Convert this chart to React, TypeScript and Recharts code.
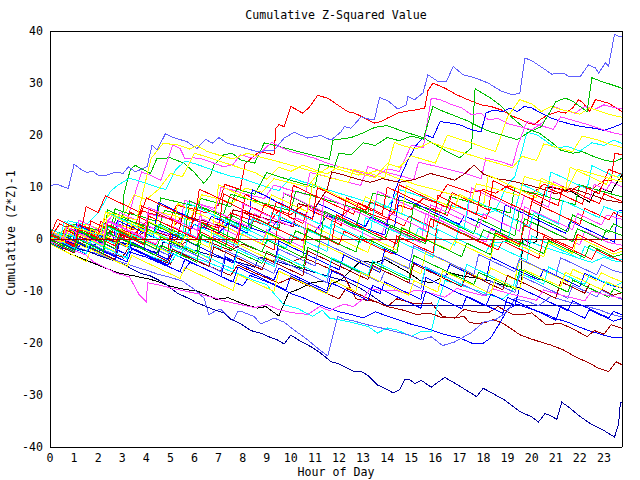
import { Line, LineChart, XAxis, YAxis } from 'recharts'

type P = [number, number]

const HOURS = Array.from({ length: 24 }, (_, i) => i)
const VALUE_TICKS = [-40, -30, -20, -10, 0, 10, 20, 30, 40]

const RED = '#ff0000'
const GREEN = '#00c000'
const BLUE = '#0000ff'
const MAGENTA = '#ff40ff'
const CYAN = '#00ffff'
const DARKRED = '#a00000'
const YELLOW = '#ffff00'
const BLACK = '#000000'
const SLATE = '#6060ff'
const NAVY = '#0000a0'

const FONT = "'DejaVu Sans Mono', monospace"

// [hour, cumulative (z*z)-1]
const slateTop: P[] = [[0,10.2],[0.25,10.6],[0.76,9.7],[1.0,14.4],[1.25,13.5],[1.53,12.8],[1.78,13.0],[2.0,12.3],[2.36,12.3],[2.78,12.9],[3.03,12.6],[3.26,13.9],[3.54,12.9],[4.03,13.9],[4.24,18.1],[4.44,17.1],[4.79,20.2],[5.14,19.5],[5.69,18.7],[6.1,17.4],[6.46,19.2],[6.74,18.4],[7.01,19.5],[7.36,18.4],[7.92,17.7],[8.61,16.8],[9.31,17.1],[9.72,19.4],[10.14,20.5],[10.7,19.4],[11.25,19.9],[11.67,19.0],[12.08,20.6],[12.22,21.6],[12.5,21.3],[12.92,23.5],[13.19,23.1],[13.47,22.9],[13.68,27.2],[14.03,26.6],[14.44,25.0],[14.79,25.8],[14.86,27.4],[15.14,26.8],[15.49,28.1],[15.69,31.6],[16.11,30.3],[16.46,30.3],[16.74,33.2],[17.15,31.6],[17.64,31.0],[18.19,30.0],[18.75,28.4],[19.24,27.7],[19.51,28.1],[19.72,34.8],[20.0,34.3],[20.55,32.6],[20.83,31.7],[21.32,31.9],[21.53,31.3],[22.01,31.2],[22.36,33.5],[22.64,32.9],[22.78,31.9],[23.06,33.9],[23.19,33.2],[23.44,39.4],[23.61,39.0],[23.75,38.9]]
const redPeak: P[] = [[0,0.3],[0.5,-0.4],[0.75,2.5],[1.5,1.5],[2,0.6],[2.25,3.8],[3,2.6],[3.5,1.8],[3.75,5.5],[4.5,4.5],[5,3.8],[5.25,6.5],[6,5.7],[6.5,5.0],[7,6.5],[7.25,10.5],[7.9,9.5],[8.1,14.5],[8.7,16.8],[9.3,16.2],[9.38,21.3],[9.51,22.0],[9.72,21.6],[10.0,25.5],[10.49,24.2],[10.76,25.3],[11.11,27.6],[11.53,27.1],[11.94,25.8],[12.36,24.5],[12.64,24.2],[12.92,23.6],[13.19,22.9],[13.47,22.3],[13.75,22.6],[14.03,23.3],[14.44,24.2],[14.72,24.5],[15.14,24.8],[15.56,25.2],[15.69,28.5],[15.9,30.0],[16.4,29.0],[16.9,27.7],[17.5,26.5],[17.9,25.8],[18.3,25.5],[18.75,24.8],[19.2,23.6],[19.5,23.1],[19.85,22.3],[20.1,22.0],[20.4,23.1],[20.7,23.9],[21.1,24.5],[21.4,24.2],[21.7,25.2],[21.95,26.8],[22.15,26.1],[22.4,24.5],[22.65,26.8],[22.9,26.5],[23.2,26.1],[23.4,25.5],[23.75,24.5]]
const greenA: P[] = [[0,0.5],[0.5,-0.5],[0.75,1.8],[1.5,0.6],[2,-0.3],[2.25,2.5],[3,1.5],[3.06,8.4],[3.33,13.3],[3.54,14.2],[3.75,13.6],[4.17,12.6],[4.44,15.5],[5,15.6],[5.56,14.6],[5.97,12.9],[6.39,10.7],[6.67,12.3],[6.81,14.2],[7.22,16.2],[7.57,16.5],[7.92,15.2],[8.5,14.6],[8.9,18.5],[9.5,17.8],[10,17.2],[10.5,16.6],[11,16.0],[11.6,15.3],[11.75,19.0],[12.5,19.5],[13,20.4],[13.5,21.5],[14,21.8],[14.6,20.8],[15,20.2],[15.5,19.5],[15.9,18.4],[16.5,16.8],[17,15.6],[17.5,17.5],[17.65,28.9],[18.3,27.1],[18.75,25.5],[19.2,23.3],[19.7,21.3],[20.3,20.4],[20.8,18.7],[21.2,17.1],[21.7,16.5],[22.1,16.8],[22.5,16.0],[23,15.2],[23.4,14.8],[23.75,15.5]]
const greenB: P[] = [[0,1],[0.5,0.2],[1,2.8],[1.5,2],[2,1.2],[2.5,0.5],[2.75,4.2],[3.5,3.2],[4,2.5],[4.5,1.8],[4.75,5.5],[5.5,4.6],[6,3.9],[6.25,7.8],[7,6.9],[7.5,6.2],[7.75,9.6],[8.5,8.6],[9,12.8],[9.5,12],[10,11.3],[10.5,10.6],[11,9.9],[11.2,14.4],[11.8,13.8],[12,16.5],[12.5,16.2],[13,18.5],[13.5,18.0],[14,19.5],[14.5,18.9],[15,19.8],[15.5,19.2],[15.9,25.5],[16.3,24.6],[16.8,23.7],[17.3,22.8],[17.8,21.6],[18.3,20.6],[18.9,19.8],[19.4,19.1],[19.9,20.6],[20.4,21.6],[21,26.4],[21.4,27.1],[21.7,26.5],[22,25.5],[22.3,24.5],[22.5,31],[22.9,30.3],[23.3,29.7],[23.75,29]]
const magentaA: P[] = [[0,0.8],[0.5,0],[1,-0.7],[1.25,2.5],[2,1.6],[2.6,4.5],[3.2,3.6],[3.8,12.9],[4.2,12.2],[4.6,11.3],[5.1,18.1],[5.4,17.4],[5.6,15.5],[6,15.6],[6.3,15.4],[6.8,14.6],[7.2,13.9],[7.6,14.3],[7.9,16.2],[8.2,15.8],[8.5,15.5],[9.2,18.6],[9.6,17.6],[10,16.8],[10.5,16.2],[11,15.5],[11.5,14.6],[12,13.9],[12.5,13.3],[13,12.7],[13.5,12],[14,13.5],[14.5,13],[15,18],[15.5,17.6],[15.83,27.1],[16.2,26.8],[16.7,25.8],[17.1,25.2],[17.5,23.9],[17.9,24.2],[18.2,22.9],[18.6,23.2],[19,22.2],[19.5,21.6],[20,21.0],[20.5,22.5],[20.9,25.5],[21.3,24.8],[21.8,24.2],[22.2,25.5],[22.6,24.9],[23,25.8],[23.4,25.3],[23.75,25]]
const yellowA: P[] = [[0,-0.2],[0.5,1.5],[1,0.8],[1.5,2.8],[2,2],[2.5,4.8],[3,4],[3.5,8.5],[4,7.6],[4.5,9.5],[5,12.6],[5.5,12],[6,16.5],[6.5,15.8],[7,15],[7.5,14.3],[8,13.5],[8.5,12.8],[9,11.5],[9.5,13.8],[10,13],[10.5,14.2],[11,13.3],[11.5,12.5],[12,13.9],[12.5,13.2],[13,12.4],[13.5,11.8],[14,14.5],[14.5,13.8],[15,16],[15.5,15.3],[16,14.6],[16.5,20],[17,19.2],[17.5,18.5],[18,17.6],[18.5,16.8],[19,23.5],[19.5,26.8],[20,26],[20.4,24.5],[20.8,25.5],[21.2,24.9],[21.6,24.5],[22,24],[22.4,25.2],[22.8,24.6],[23.2,24],[23.75,23.4]]
const blueA: P[] = [[0,0],[0.5,-0.8],[1,0.8],[1.5,0],[2,-0.8],[2.5,1.5],[3,0.7],[3.5,-0.1],[4,2.5],[4.5,1.7],[5,0.9],[5.5,0.1],[6,2.8],[6.5,2],[7,1.2],[7.5,3.5],[8,2.7],[8.5,1.9],[9,1.1],[9.5,3.8],[10,3],[10.5,2.2],[11,1.4],[11.5,4.5],[12,3.7],[12.5,2.9],[13,2.1],[13.5,1.4],[13.9,0.8],[14.1,5],[14.3,9],[14.6,12.5],[14.9,15.5],[15.2,18],[15.6,20],[15.9,19.5],[16.2,22.6],[16.6,22.3],[17,22],[17.5,21],[17.9,20.6],[18.1,24.2],[18.4,24.8],[18.8,24.5],[19.1,25.2],[19.4,24.5],[19.7,25.5],[20,25.2],[20.4,24.2],[20.8,23.3],[21.2,22.6],[21.7,22],[22.1,21.6],[22.6,21.3],[23,20.9],[23.4,21.5],[23.75,22.2]]
const cyanA: P[] = [[0,1.5],[0.5,0.7],[0.75,3.5],[1.5,2.7],[2,5],[2.5,9.1],[2.8,10.3],[3.3,11.7],[3.8,11],[4.3,10.2],[4.8,9.5],[5.2,13.2],[5.6,15],[6,14.5],[6.5,13.7],[7,12.8],[7.5,12.1],[8,11.6],[8.5,10.8],[9,10],[9.5,9.3],[10,11.8],[10.5,11],[11,10.3],[11.5,9.5],[12,8.8],[12.5,8.1],[13,7.4],[13.5,6.7],[14,6],[14.5,9.5],[15,8.8],[15.5,8],[16,7.3],[16.5,6.6],[17,6],[17.5,5.3],[18,4.6],[18.5,5.5],[19,10.5],[19.3,12],[19.6,17],[19.8,20.5],[20.2,20.1],[20.6,18.8],[21,17.5],[21.5,17.8],[22,16.9],[22.5,18.5],[23,18],[23.4,19],[23.75,18.4]]
const redB: P[] = [[0,0.3],[0.5,-0.5],[1,1.8],[1.5,1],[2,0.2],[2.5,2.5],[3,1.7],[3.5,0.9],[4,3.3],[4.5,2.5],[5,1.7],[5.5,4.5],[6,3.7],[6.5,2.9],[7,2.1],[7.5,5],[8,4.2],[8.5,3.4],[9,2.6],[9.5,5.5],[10,4.7],[10.5,6.5],[11,5.7],[11.5,4.9],[12,4.1],[12.5,6],[13,5.3],[13.5,4.5],[14,3.7],[14.5,6.5],[15,5.7],[15.5,7.8],[16,7],[16.5,10.5],[17,9.7],[17.5,8.9],[18,9.5],[18.5,8.8],[19,10.2],[19.5,9.5],[20,8.7],[20.5,10.5],[21,9.8],[21.5,9],[22,10.3],[22.5,9.6],[23,11.2],[23.3,11.3],[23.45,16.5],[23.75,16.2]]
const blackA: P[] = [[0,-0.6],[0.7,-2.6],[1.4,-3.9],[2.1,-5.2],[2.8,-6.5],[3.5,-7.1],[4.2,-7.8],[4.6,-8.4],[5,-9.1],[5.6,-9.7],[6.1,-10],[6.5,-10.7],[6.9,-11.6],[7.4,-11.3],[7.92,-12.3],[8.6,-13.3],[8.96,-13],[9.5,-14.8],[9.9,-10.4],[10.35,-9.6],[10.8,-8.5],[11.3,-8.1],[11.7,-8.6],[12.1,-7.8],[12.5,-6],[12.9,-4.2],[13.5,-4.6],[13.9,-3.9],[14.4,-5.2],[14.9,-6.5],[15.4,-8.1],[15.83,-8.4],[16.2,-7.6],[16.6,-6.5],[17.2,-7.2],[17.7,-7.5],[18.2,-8],[18.6,-8.6],[19.0,-9.1],[19.55,-9.4],[19.62,0],[19.9,-0.8],[20.2,-0.5],[20.3,4.5],[20.6,10],[21.1,9.7],[21.7,9],[22.0,8.1],[22.4,7.1],[22.6,9],[22.9,9.7],[23.3,9],[23.5,10.6],[23.75,12.3]]
const navyLow: P[] = [[0,0.3],[0.42,-0.4],[0.83,-1.2],[1.25,-2.0],[1.67,-2.5],[2.08,-3.3],[2.5,-3.9],[3.06,-4.9],[3.47,-5.9],[3.75,-6.6],[4.17,-7.1],[4.72,-8.4],[5.28,-10.4],[5.56,-11.0],[5.83,-11.6],[6.11,-12.3],[6.39,-12.8],[6.81,-13.6],[7.01,-13.9],[7.22,-14.2],[7.5,-15.4],[7.92,-16.3],[8.33,-17.6],[8.75,-18.1],[9.03,-18.7],[9.44,-19.4],[9.72,-20.2],[10.0,-18.5],[10.42,-19.7],[10.83,-20.7],[11.25,-22.0],[11.67,-23.6],[11.94,-23.9],[12.36,-24.9],[12.64,-25.5],[12.92,-25.5],[13.19,-26.2],[13.61,-28.1],[14.03,-29.0],[14.24,-29.6],[14.51,-29.0],[14.72,-27.1],[14.93,-27.0],[15.14,-27.8],[15.42,-27.2],[15.83,-28.5],[16.39,-26.6],[16.94,-28.1],[17.71,-30.3],[17.99,-28.7],[18.26,-29.4],[18.89,-31.0],[19.51,-33.2],[20.0,-34.2],[20.28,-35.2],[20.55,-33.6],[20.76,-33.9],[21.04,-34.7],[21.25,-31.4],[21.53,-32.3],[21.94,-33.9],[22.43,-35.5],[22.99,-36.8],[23.44,-38.1],[23.61,-35.5],[23.68,-31.6],[23.75,-31.3]]
const navyFlat: P[] = [[0,0.6],[0.6,-0.3],[1.2,-1.1],[1.8,-1.9],[2.0,0.5],[2.7,-0.3],[3.3,-1.1],[3.9,-1.9],[4.5,-2.7],[4.7,-0.6],[5.4,-1.4],[6,-2.2],[6.6,-3],[7.2,-3.8],[7.9,-4.6],[8.5,-5.4],[8.7,-3.5],[9.4,-4.3],[10,-5.1],[10.6,-5.9],[11.2,-6.7],[11.8,-7.5],[12.4,-8.3],[12.9,-9.5],[13.4,-11],[13.96,-12.8],[23.75,-12.8]]
const slateLow: P[] = [[0,0.2],[0.5,-0.6],[1,-1.4],[1.5,-2.2],[2,-2.9],[2.5,-3.8],[3,-4.5],[3.5,-5.3],[4,-6],[4.5,-6.8],[5,-7.4],[5.5,-8.1],[6,-9.7],[6.4,-11.4],[6.6,-14.6],[6.9,-13.7],[7.1,-13.6],[7.4,-14.9],[7.6,-15.7],[7.8,-14.0],[7.92,-13.9],[8.47,-14.9],[8.75,-16.3],[9.03,-15.8],[9.31,-15.2],[9.72,-16],[10.14,-17.5],[10.7,-19.4],[11.11,-21],[11.53,-22.5],[11.94,-14.9],[12.22,-15.4],[12.64,-15.8],[13.19,-16.5],[13.75,-17.1],[14.31,-17.8],[14.86,-18.4],[15.42,-19.4],[15.83,-18.8],[16.3,-20.5],[16.8,-19.8],[17.5,-18],[18,-16],[18.5,-15.5],[19,-14],[19.3,-11.5],[19.8,-12],[20.3,-12.8],[20.8,-11],[21.3,-11.8],[21.8,-12.4],[22.3,-13],[22.8,-13.6],[23.3,-14.5],[23.75,-15]]
const darkredLow: P[] = [[0,0],[1,-1.5],[1.5,-0.5],[2,-1.8],[3,-3.5],[3.3,-1.5],[4,-3],[5,-4.8],[5.3,-2.5],[6,-4],[7,-6],[7.5,-7],[7.8,-5],[8.5,-6.5],[9.5,-8.5],[10,-7.5],[11,-9.5],[12,-11.5],[12.3,-9.5],[13,-11],[14,-13],[14.4,-11.5],[15.2,-12.5],[15.83,-12.3],[16.3,-14.9],[16.7,-15.2],[17.2,-14.9],[17.4,-16],[17.7,-16.3],[18.1,-16],[18.4,-15.5],[18.8,-16.2],[19.1,-17.1],[19.5,-18.4],[19.9,-19.1],[20.3,-19.7],[20.8,-20.4],[21.3,-21.3],[21.8,-22.6],[22.4,-23.9],[22.8,-24.9],[23.2,-25.5],[23.5,-23.6],[23.75,-24.2]]
const darkredMid: P[] = [[0,0.5],[0.5,-0.5],[1,1.3],[2,-0.3],[2.5,1.5],[3.5,-0.2],[4,1.8],[5,0],[5.5,-1],[6,0.5],[7,-1.3],[7.5,-2.2],[8,-1],[9,-2.8],[10,-4.5],[10.5,-3.5],[11.5,-5.5],[12.2,-7],[12.7,-11.5],[13.5,-12],[14,-13],[14.6,-13.6],[15.2,-14.5],[15.8,-14.3],[16.2,-15],[16.8,-15.2],[17.2,-13.5],[17.6,-14],[18.2,-14.2],[18.6,-13],[19.2,-14.5],[19.6,-14.6],[20,-14.2],[20.6,-16.5],[21.2,-16.2],[21.8,-17.5],[22.3,-18.8],[22.6,-17.6],[23,-18.3],[23.3,-16.5],[23.75,-17.2]]
const blueLow: P[] = [[0,-0.5],[0.5,-1.5],[1,-2.5],[1.3,-1],[2,-2],[2.5,-3],[3,-4],[3.3,-2.5],[4,-3.5],[4.5,-4.5],[5,-5.5],[5.5,-6.5],[5.8,-4.5],[6.5,-5.8],[7,-7],[7.5,-8],[8,-9],[8.3,-7],[9,-8.2],[9.5,-9.3],[10,-10.5],[10.5,-11.3],[11,-12.3],[11.5,-13.2],[12,-14],[12.5,-14.5],[13,-15.2],[13.5,-14],[14,-14.8],[14.5,-15.6],[15,-16.4],[15.5,-17],[16,-17.8],[16.5,-18.5],[17,-19],[17.5,-20],[18,-20],[18.3,-19],[18.7,-16],[19,-13.5],[19.4,-12.5],[19.8,-13.2],[20.2,-13.8],[20.6,-14.5],[21,-15.3],[21.5,-16],[22,-17],[22.5,-17.8],[23,-18.5],[23.4,-19],[23.75,-19]]
const cyanLow: P[] = [[0,1.2],[0.5,0.4],[1,-0.4],[1.5,-1.2],[2,-2],[2.3,0],[3,-1.2],[3.5,-2],[4,-3],[4.5,-3.8],[5,-4.6],[5.3,-2.5],[6,-3.6],[6.5,-4.4],[7,-5.3],[7.5,-6.2],[8,-7],[8.5,-8],[9,-8.8],[9.3,-10.5],[9.7,-12.6],[10.3,-13.4],[10.9,-14.9],[11.3,-13.7],[11.6,-15.2],[12.4,-15.9],[13.2,-16.8],[13.6,-18.1],[14.0,-17.1],[14.4,-17.5],[15.0,-18.7],[15.4,-17.8],[15.83,-17.8],[16.1,-12.5],[16.4,-8],[16.8,-8.5],[17.3,-9.3],[17.8,-10],[18.3,-10.8],[18.8,-11.5],[19.2,-10],[19.5,-4],[19.7,0],[20,-0.7],[20.5,-1.5],[21,-2.3],[21.5,-3],[22,-3.8],[22.5,-4.5],[23,-3.5],[23.4,-4.2],[23.75,-4.4]]
const magentaB: P[] = [[0,0.4],[0.4,-0.3],[0.8,2.1],[1.4,1.2],[2.1,0.4],[2.4,3.3],[3.1,2.4],[3.9,1.5],[4.1,4.8],[4.9,3.9],[5.4,3.1],[5.6,7.4],[6.3,6.6],[6.9,5.8],[7.1,9.9],[7.6,9.4],[8.2,8.5],[8.9,7.8],[9.3,10.4],[9.9,9.5],[10.6,8.6],[10.8,12.8],[11.5,12.0],[12.2,11.1],[12.9,10.3],[13.2,13.9],[13.8,13.0],[14.6,12.1],[15.1,11.4],[15.3,14.8],[16.0,14.0],[16.7,13.2],[17.3,12.5],[17.9,11.6],[18.1,15.6],[18.7,14.9],[19.2,14.1],[19.4,17.7],[19.8,22.6],[20.3,21.9],[20.9,21.1],[21.2,23.5],[21.8,22.7],[22.4,21.9],[22.9,21.1],[23.4,20.4],[23.75,20.1]]
const yellowB: P[] = [[0,-0.5],[0.6,-1.3],[0.9,1.4],[1.6,0.6],[2.2,-0.1],[2.8,-0.9],[3.0,2.5],[3.7,1.7],[4.3,0.8],[4.5,5.2],[5.2,4.4],[5.8,3.6],[6.3,8.5],[7,7.7],[7.6,6.9],[8.1,9.8],[8.8,9.0],[9.3,11.6],[10,10.8],[10.7,10],[11.1,12.5],[11.7,11.7],[12.4,10.9],[12.6,13.4],[13.3,12.6],[13.9,11.7],[14.3,18.6],[14.6,18.0],[15.2,17.3],[15.8,18.6],[16.3,17.8],[16.9,16.9],[17.5,16.1],[18.1,15.2],[18.7,14.4],[19.2,13.7],[19.6,15.9],[20.2,15.1],[20.5,18.3],[21.1,17.5],[21.7,16.8],[22.1,19.8],[22.7,19.1],[23.2,18.3],[23.75,17.6]]
const greenC: P[] = [[0,1.8],[0.5,1],[1,0.3],[1.2,2.6],[1.9,1.8],[2.5,1.0],[2.7,5.8],[3.2,5.0],[3.9,4.2],[4.4,3.4],[4.6,7.9],[5.4,7.0],[6,6.3],[6.6,5.5],[7.2,4.7],[7.5,8.6],[8.1,7.8],[8.8,7.0],[9.4,6.2],[10.0,5.4],[10.2,9.2],[10.9,8.3],[11.5,7.5],[12.1,6.7],[12.7,5.9],[13.2,5.1],[13.4,8.8],[14.1,8.0],[14.8,7.1],[15.3,6.4],[15.9,5.6],[16.4,4.8],[16.6,8.2],[17.2,7.4],[17.8,6.6],[18.5,5.8],[19.1,5.0],[19.3,9.8],[19.9,9.0],[20.6,8.2],[21.2,7.4],[21.8,6.6],[22.0,10.4],[22.6,9.6],[23.2,8.8],[23.75,8.1]]
const redC: P[] = [[0,-0.3],[0.4,-1.2],[0.6,1.9],[1.1,0.8],[1.5,-0.2],[1.7,3.5],[2.2,2.3],[2.7,1.1],[3.1,0.1],[3.3,5.2],[3.8,4.0],[4.3,2.9],[4.8,1.7],[5.2,0.7],[5.4,1.6],[5.8,0.5],[6.0,6.4],[6.5,5.2],[7.0,4.1],[7.5,2.9],[7.9,1.9],[8.1,8.6],[8.6,7.4],[9.1,6.3],[9.6,5.1],[10.0,4.1],[10.5,3.0],[10.7,5.8],[11.2,4.7],[11.7,3.6],[12.1,2.6],[12.3,7.9],[12.8,6.8],[13.3,5.6],[13.8,4.5],[14.3,3.4],[14.7,2.5],[14.9,4.4],[15.4,3.3],[15.9,2.2],[16.1,8.4],[16.6,7.2],[17.1,6.1],[17.6,5.0],[18.1,3.9],[18.3,6.0],[18.8,4.9],[19.3,3.8],[19.8,2.7],[20.0,7.2],[20.5,6.1],[21.0,5.0],[21.5,3.9],[22.0,2.8],[22.2,5.9],[22.7,4.8],[23.2,3.7],[23.4,5.1],[23.75,4.2]]
const blueB: P[] = [[0,0.6],[0.5,-0.5],[0.9,-1.4],[1.1,2.9],[1.6,1.7],[2.1,0.6],[2.6,-0.5],[2.8,3.6],[3.3,2.5],[3.8,1.4],[4.3,0.3],[4.5,7.1],[5,5.9],[5.5,4.8],[6,3.7],[6.5,2.5],[6.7,4.4],[7.2,3.3],[7.7,2.2],[8.2,1.1],[8.4,9.5],[8.9,8.4],[9.4,7.2],[9.9,6.1],[10.4,5.0],[10.9,3.9],[11.1,6.9],[11.6,5.8],[12.1,4.7],[12.6,3.5],[13.1,2.4],[13.3,4.2],[13.8,3.1],[14.3,2.0],[14.5,8.3],[15,7.2],[15.5,6.1],[16,5.0],[16.5,3.9],[17,2.8],[17.2,4.5],[17.7,3.4],[18.2,2.3],[18.7,1.2],[18.9,6.6],[19.4,5.5],[19.9,4.4],[20.4,3.3],[20.9,2.2],[21.4,1.1],[21.6,3.4],[22.1,2.3],[22.6,1.2],[23.1,0.1],[23.45,-0.6],[23.55,5.2],[23.75,5.6]]
const greenD: P[] = [[0,0.9],[0.5,-0.2],[0.7,2.8],[1.2,1.7],[1.7,0.6],[2.2,-0.5],[2.4,5.6],[2.9,4.5],[3.4,3.4],[3.9,2.3],[4.4,1.2],[4.6,2.8],[5.1,1.7],[5.6,0.6],[5.8,7.3],[6.3,6.2],[6.8,5.1],[7.3,4.0],[7.8,2.9],[8.3,1.8],[8.5,4.1],[9,3.0],[9.5,1.9],[9.7,8.8],[10.2,7.7],[10.7,6.6],[11.2,5.5],[11.7,4.4],[12.2,3.3],[12.7,2.2],[12.9,5.4],[13.4,4.3],[13.9,3.2],[14.4,2.1],[14.9,1.0],[15.1,6.5],[15.6,5.4],[16.1,4.3],[16.6,3.2],[17.1,2.1],[17.6,1.0],[17.8,3.9],[18.3,2.8],[18.8,1.7],[19.3,0.6],[19.5,5.8],[20,4.7],[20.5,3.6],[21,2.5],[21.5,1.4],[21.7,4.6],[22.2,3.5],[22.7,2.4],[23.2,1.3],[23.4,2.9],[23.75,2.1]]
const magentaC: P[] = [[0,-0.2],[0.5,-1.3],[0.7,1.2],[1.2,0.1],[1.7,-1.0],[2.2,-2.1],[2.4,3.4],[2.9,2.3],[3.4,1.2],[3.9,0.1],[4.4,-1.0],[4.6,0.8],[5.1,-0.3],[5.6,-1.4],[6.1,-2.5],[6.3,4.6],[6.8,3.5],[7.3,2.4],[7.8,1.3],[8.3,0.2],[8.8,-0.9],[9,1.7],[9.5,0.6],[10,-0.5],[10.5,-1.6],[10.7,6.2],[11.2,5.1],[11.7,4.0],[12.2,2.9],[12.7,1.8],[13.2,0.7],[13.7,-0.4],[13.9,2.6],[14.4,1.5],[14.9,0.4],[15.4,-0.7],[15.6,4.9],[16.1,3.8],[16.6,2.7],[17.1,1.6],[17.6,0.5],[18.1,-0.6],[18.3,1.9],[18.8,0.8],[19.3,-0.3],[19.8,-1.4],[20,3.3],[20.5,2.2],[21,1.1],[21.5,0],[22,-1.1],[22.2,1.5],[22.7,0.4],[23.2,-0.7],[23.75,-1.2]]
const cyanB: P[] = [[0,2.0],[0.5,0.9],[1,-0.2],[1.2,2.4],[1.7,1.3],[2.2,0.2],[2.7,-0.9],[2.9,4.5],[3.4,3.4],[3.9,2.3],[4.4,1.2],[4.9,0.1],[5.4,-1.0],[5.6,1.4],[6.1,0.3],[6.6,-0.8],[7.1,-1.9],[7.3,3.8],[7.8,2.7],[8.3,1.6],[8.8,0.5],[9.3,-0.6],[9.8,-1.7],[10,0.9],[10.5,-0.2],[11,-1.3],[11.5,-2.4],[11.7,2.9],[12.2,1.8],[12.7,0.7],[13.2,-0.4],[13.7,-1.5],[14.2,-2.6],[14.4,-0.2],[14.9,-1.3],[15.4,-2.4],[15.9,-3.5],[16.1,1.8],[16.6,0.7],[17.1,-0.4],[17.6,-1.5],[18.1,-2.6],[18.3,-0.8],[18.8,-1.9],[19.3,-3.0],[19.8,-4.1],[20,0.6],[20.5,-0.5],[21,-1.6],[21.5,-2.7],[22,-3.8],[22.2,-1.4],[22.7,-2.5],[23.2,-3.6],[23.75,-4.0]]
const yellowC: P[] = [[0,0.3],[0.5,-0.8],[1,-1.9],[1.2,0.9],[1.7,-0.2],[2.2,-1.3],[2.7,-2.4],[2.9,1.8],[3.4,0.7],[3.9,-0.4],[4.4,-1.5],[4.9,-2.6],[5.1,-0.4],[5.6,-1.5],[6.1,-2.6],[6.6,-3.7],[6.8,1.2],[7.3,0.1],[7.8,-1.0],[8.3,-2.1],[8.8,-3.2],[9.3,-4.3],[9.5,-1.9],[10,-3.0],[10.5,-4.1],[11,-5.2],[11.2,-0.8],[11.7,-1.9],[12.2,-3.0],[12.7,-4.1],[13.2,-5.2],[13.7,-6.3],[13.9,-3.4],[14.4,-4.5],[14.9,-5.6],[15.4,-6.7],[15.6,-2.5],[16.1,-3.6],[16.6,-4.7],[17.1,-5.8],[17.6,-6.9],[18.1,-8.0],[18.3,-5.6],[18.8,-6.7],[19.3,-7.8],[19.5,-3.9],[20,-5.0],[20.5,-6.1],[21,-7.2],[21.5,-8.3],[21.7,-5.8],[22.2,-6.9],[22.7,-8.0],[22.9,-6.5],[23.4,-7.6],[23.75,-8.2]]
const slateMid: P[] = [[0,-0.4],[0.5,-1.5],[1,-2.6],[1.2,-0.7],[1.7,-1.8],[2.2,-2.9],[2.7,-4.0],[2.9,0.4],[3.4,-0.7],[3.9,-1.8],[4.4,-2.9],[4.9,-4.0],[5.1,-1.9],[5.6,-3.0],[6.1,-4.1],[6.6,-5.2],[7.1,-6.3],[7.3,-2.2],[7.8,-3.3],[8.3,-4.4],[8.8,-5.5],[9.3,-6.6],[9.5,-4.0],[10,-5.1],[10.5,-6.2],[11,-7.3],[11.5,-8.4],[11.7,-3.9],[12.2,-5.0],[12.7,-6.1],[13.2,-7.2],[13.7,-8.3],[13.9,-6.2],[14.4,-7.3],[14.9,-8.4],[15.4,-9.5],[15.6,-5.4],[16.1,-6.5],[16.6,-7.6],[17.1,-8.7],[17.6,-9.8],[18.1,-10.9],[18.3,-8.1],[18.8,-9.2],[19.3,-10.3],[19.5,-7.0],[20,-8.1],[20.5,-9.2],[21,-10.3],[21.5,-11.4],[21.7,-8.9],[22.2,-10.0],[22.7,-11.1],[22.9,-9.9],[23.4,-11.0],[23.75,-11.6]]
const redD: P[] = [[0,1.0],[0.5,-0.1],[1,-1.2],[1.2,2.9],[1.7,1.8],[2.2,0.7],[2.7,-0.4],[3.2,-1.5],[3.4,1.0],[3.9,-0.1],[4.4,-1.2],[4.9,-2.3],[5.1,3.9],[5.6,2.8],[6.1,1.7],[6.6,0.6],[7.1,-0.5],[7.6,-1.6],[7.8,1.2],[8.3,0.1],[8.8,-1.0],[9.3,-2.1],[9.5,4.4],[10,3.3],[10.5,2.2],[11,1.1],[11.5,0],[12,-1.1],[12.2,1.5],[12.7,0.4],[13.2,-0.7],[13.7,-1.8],[14.2,-2.9],[14.4,0.6],[14.9,-0.5],[15.4,-1.6],[15.9,-2.7],[16.1,3.4],[16.6,2.3],[17.1,1.2],[17.6,0.1],[18.1,-1.0],[18.6,-2.1],[18.8,-0.4],[19.3,-1.5],[19.8,-2.6],[20.3,-3.7],[20.5,0.5],[21,-0.6],[21.5,-1.7],[22,-2.8],[22.5,-3.9],[22.7,-2.1],[23.2,-3.2],[23.75,-4.3]]
const greenE: P[] = [[0,-0.8],[0.5,-1.9],[0.7,0.4],[1.2,-0.7],[1.7,-1.8],[2.2,-2.9],[2.4,1.2],[2.9,0.1],[3.4,-1.0],[3.9,-2.1],[4.4,-3.2],[4.6,-1.2],[5.1,-2.3],[5.6,-3.4],[6.1,-4.5],[6.3,0.8],[6.8,-0.3],[7.3,-1.4],[7.8,-2.5],[8.3,-3.6],[8.8,-4.7],[9,-2.4],[9.5,-3.5],[10,-4.6],[10.5,-5.7],[10.7,-1.6],[11.2,-2.7],[11.7,-3.8],[12.2,-4.9],[12.7,-6.0],[13.2,-7.1],[13.4,-4.6],[13.9,-5.7],[14.4,-6.8],[14.9,-7.9],[15.1,-3.2],[15.6,-4.3],[16.1,-5.4],[16.6,-6.5],[17.1,-7.6],[17.6,-8.7],[17.8,-6.4],[18.3,-7.5],[18.8,-8.6],[19.3,-9.7],[19.5,-5.8],[20,-6.9],[20.5,-8.0],[21,-9.1],[21.5,-10.2],[21.7,-7.9],[22.2,-9.0],[22.7,-10.1],[23.2,-11.2],[23.4,-9.6],[23.75,-10.4]]
const blueC: P[] = [[0,0.2],[0.5,-0.9],[1,-2.0],[1.2,1.4],[1.7,0.3],[2.2,-0.8],[2.7,-1.9],[3.2,-3.0],[3.4,-0.6],[3.9,-1.7],[4.4,-2.8],[4.9,-3.9],[5.1,0.9],[5.6,-0.2],[6.1,-1.3],[6.6,-2.4],[7.1,-3.5],[7.6,-4.6],[7.8,-2.0],[8.3,-3.1],[8.8,-4.2],[9.3,-5.3],[9.5,-0.4],[10,-1.5],[10.5,-2.6],[11,-3.7],[11.5,-4.8],[12,-5.9],[12.2,-3.1],[12.7,-4.2],[13.2,-5.3],[13.7,-6.4],[13.9,-1.9],[14.4,-3.0],[14.9,-4.1],[15.4,-5.2],[15.9,-6.3],[16.4,-7.4],[16.6,-4.9],[17.1,-6.0],[17.6,-7.1],[18.1,-8.2],[18.3,-3.5],[18.8,-4.6],[19.3,-5.7],[19.8,-6.8],[20.3,-7.9],[20.5,-5.9],[21,-7.0],[21.5,-8.1],[22,-9.2],[22.2,-6.6],[22.7,-7.7],[23.2,-8.8],[23.75,-9.4]]
const darkredHigh: P[] = [[0,-0.1],[0.5,-0.9],[1.1,-1.7],[1.3,1.2],[2,0.4],[2.6,-0.4],[3.2,-1.2],[3.4,2.5],[4.1,1.7],[4.7,0.9],[5.3,0.1],[5.5,4.5],[6.2,3.7],[6.8,2.9],[7.4,2.1],[7.6,5.6],[8.3,4.8],[8.9,4],[9.5,3.2],[10.1,2.4],[10.3,6.8],[11,6],[11.5,9.5],[11.7,12.9],[12.2,12.3],[12.7,11.6],[13.3,10.9],[13.8,11.6],[14.5,10.9],[15.1,11.4],[15.8,12.6],[16.3,12.0],[16.8,11.3],[17.2,12.5],[17.6,14.2],[18,12.5],[18.5,11.6],[19,11.3],[19.5,10.8],[20,10.2],[20.5,9.5],[21,8.7],[21.6,9.7],[22.1,9.1],[22.6,8.3],[23.1,7.5],[23.75,7.0]]
const yellowD: P[] = [[0,0.6],[0.5,-0.5],[0.7,3.2],[1.2,2.1],[1.7,1.0],[2.2,-0.1],[2.4,4.9],[2.9,3.8],[3.4,2.7],[3.9,1.6],[4.1,3.4],[4.6,2.3],[5.1,1.2],[5.3,6.8],[5.8,5.7],[6.3,4.6],[6.8,3.5],[7,10.4],[7.5,9.3],[8,8.2],[8.5,7.1],[9,6.0],[9.2,8.5],[9.7,7.4],[10.2,6.3],[10.7,5.2],[10.9,10.6],[11.4,9.5],[11.9,8.4],[12.4,7.3],[12.9,6.2],[13.1,8.1],[13.6,7.0],[14.1,5.9],[14.6,4.8],[14.8,10.2],[15.3,9.1],[15.8,8.0],[16.3,6.9],[16.8,5.8],[17,8.6],[17.5,7.5],[18,6.4],[18.2,12.3],[18.7,11.2],[19.2,10.1],[19.7,9.0],[20.2,7.9],[20.4,11.7],[20.9,10.6],[21.4,9.5],[21.6,13.8],[22.1,12.7],[22.6,11.6],[23.1,10.5],[23.3,12.4],[23.75,11.5]]
const cyanC: P[] = [[0,-0.6],[0.5,-1.7],[0.7,1.1],[1.2,0],[1.7,-1.1],[2.2,-2.2],[2.4,2.3],[2.9,1.2],[3.4,0.1],[3.9,-1.0],[4.1,0.9],[4.6,-0.2],[5.1,-1.3],[5.6,-2.4],[5.8,3.2],[6.3,2.1],[6.8,1.0],[7.3,-0.1],[7.8,-1.2],[8,1.4],[8.5,0.3],[9,-0.8],[9.2,5.0],[9.7,3.9],[10.2,2.8],[10.7,1.7],[11.2,0.6],[11.4,2.6],[11.9,1.5],[12.4,0.4],[12.9,-0.7],[13.1,4.1],[13.6,3.0],[14.1,1.9],[14.6,0.8],[15.1,-0.3],[15.3,2.1],[15.8,1.0],[16.3,-0.1],[16.8,-1.2],[17,2.6],[17.5,1.5],[18,0.4],[18.5,-0.7],[19.0,-0.5],[19.3,5.5],[19.6,10.5],[20.1,9.4],[20.6,8.3],[20.8,12.9],[21.3,11.8],[21.8,10.7],[22.3,9.6],[22.5,14.1],[23,13.0],[23.5,11.9],[23.75,12.6]]
const redE: P[] = [[0,0.1],[0.4,2.9],[0.9,1.8],[1.4,0.7],[1.9,-0.4],[2.1,3.4],[2.6,2.3],[3.1,1.2],[3.6,0.1],[3.8,6.4],[4.3,5.3],[4.8,4.2],[5.3,3.1],[5.8,2.0],[6,3.8],[6.5,2.7],[7,1.6],[7.2,8.7],[7.7,7.6],[8.2,6.5],[8.7,5.4],[9.2,4.3],[9.4,7.1],[9.9,6.0],[10.4,4.9],[10.9,3.8],[11.1,9.9],[11.6,8.8],[12.1,7.7],[12.6,6.6],[13.1,5.5],[13.3,7.2],[13.8,6.1],[14.3,5.0],[14.5,10.4],[15,9.3],[15.5,8.2],[16,7.1],[16.5,6.0],[16.7,8.9],[17.2,7.8],[17.7,6.7],[18.2,5.6],[18.4,11.2],[18.9,10.1],[19.4,9.0],[19.9,7.9],[20.4,6.8],[20.6,10.0],[21.1,8.9],[21.6,7.8],[22.1,6.7],[22.3,9.8],[22.8,8.7],[23.2,13.4],[23.75,12.4]]
const magentaD: P[] = [[0,1.4],[0.5,0.3],[1,-0.8],[1.2,3.6],[1.7,2.5],[2.2,1.4],[2.7,0.3],[2.9,5.1],[3.4,4.0],[3.9,2.9],[4.4,1.8],[4.9,0.7],[5.1,2.4],[5.6,1.3],[6.1,0.2],[6.3,6.6],[6.8,5.5],[7.3,4.4],[7.8,3.3],[8.3,2.2],[8.5,4.8],[9,3.7],[9.5,2.6],[9.7,8.9],[10.2,7.8],[10.7,6.7],[11.2,5.6],[11.7,4.5],[12.2,3.4],[12.4,6.0],[12.9,4.9],[13.4,3.8],[13.6,9.2],[14.1,8.1],[14.6,7.0],[15.1,5.9],[15.6,4.8],[16.1,3.7],[16.3,6.5],[16.8,5.4],[17.3,4.3],[17.5,9.8],[18,8.7],[18.5,7.6],[19,6.5],[19.5,5.4],[19.7,8.3],[20.2,7.2],[20.7,6.1],[20.9,11.0],[21.4,9.9],[21.9,8.8],[22.4,7.7],[22.6,10.5],[23.1,9.4],[23.3,11.0],[23.75,10.0]]
const blueD: P[] = [[0,-0.9],[0.5,-2.0],[0.7,0.3],[1.2,-0.8],[1.7,-1.9],[2.2,-3.0],[2.7,-4.1],[2.9,-0.6],[3.4,-1.7],[3.9,-2.8],[4.4,-3.9],[4.9,-5.0],[5.1,-2.8],[5.6,-3.9],[6.1,-5.0],[6.6,-6.1],[7.1,-7.2],[7.3,-3.5],[7.8,-4.6],[8.3,-5.7],[8.8,-6.8],[9.3,-7.9],[9.5,-5.6],[10,-6.7],[10.5,-7.8],[11,-8.9],[11.5,-10.0],[11.7,-6.1],[12.2,-7.2],[12.7,-8.3],[13.2,-9.4],[13.7,-10.5],[13.9,-8.3],[14.4,-9.4],[14.9,-10.5],[15.4,-11.6],[15.6,-7.4],[16.1,-8.5],[16.6,-9.6],[17.1,-10.7],[17.6,-11.8],[18.1,-12.9],[18.3,-10.6],[18.8,-11.7],[19.3,-12.8],[19.5,-9.4],[20,-10.5],[20.5,-11.6],[21,-12.7],[21.5,-13.8],[21.7,-11.9],[22.2,-13.0],[22.7,-14.1],[23.2,-15.2],[23.4,-13.9],[23.75,-14.6]]
const greenF: P[] = [[0,0.1],[0.5,-1.0],[1,-2.1],[1.2,1.5],[1.7,0.4],[2.2,-0.7],[2.7,-1.8],[2.9,0.3],[3.4,-0.8],[3.9,-1.9],[4.1,3.2],[4.6,2.1],[5.1,1.0],[5.6,-0.1],[6.1,-1.2],[6.3,0.9],[6.8,-0.2],[7.3,-1.3],[7.5,4.6],[8,3.5],[8.5,2.4],[9,1.3],[9.5,0.2],[10,-0.9],[10.2,1.6],[10.7,0.5],[11.2,-0.6],[11.4,5.3],[11.9,4.2],[12.4,3.1],[12.9,2.0],[13.4,0.9],[13.9,-0.2],[14.1,2.4],[14.6,1.3],[15.1,0.2],[15.6,-0.9],[15.8,4.0],[16.3,2.9],[16.8,1.8],[17.3,0.7],[17.8,-0.4],[18,1.8],[18.5,0.7],[19,-0.4],[19.5,-1.5],[19.7,3.9],[20.2,2.8],[20.7,1.7],[21.2,0.6],[21.7,-0.5],[21.9,2.0],[22.4,0.9],[22.9,-0.2],[23.1,1.8],[23.75,0.7]]
const yellowE: P[] = [[0,1.6],[0.5,0.5],[1,-0.6],[1.5,-1.7],[1.7,1.9],[2.2,0.8],[2.7,-0.3],[3.2,-1.4],[3.4,3.2],[3.9,2.1],[4.4,1.0],[4.9,-0.1],[5.4,-1.2],[5.6,0.6],[6.1,-0.5],[6.6,-1.6],[6.8,3.4],[7.3,2.3],[7.8,1.2],[8.3,0.1],[8.8,-1.0],[9,1.1],[9.5,0],[10,-1.1],[10.5,-2.2],[10.7,2.9],[11.2,1.8],[11.7,0.7],[12.2,-0.4],[12.7,-1.5],[13.2,-2.6],[13.4,0.1],[13.9,-1.0],[14.4,-2.1],[14.6,2.2],[15.1,1.1],[15.6,0],[16.1,-1.1],[16.6,-2.2],[16.8,-0.4],[17.3,-1.5],[17.8,-2.6],[18.3,-3.7],[18.5,1.0],[19,-0.1],[19.5,-1.2],[20,-2.3],[20.5,-3.4],[20.7,-0.6],[21.2,-1.7],[21.7,-2.8],[21.9,0.4],[22.4,-0.7],[22.9,-1.8],[23.4,-2.9],[23.75,-2.4]]
const cyanD: P[] = [[0,0.8],[0.4,-0.3],[0.6,3.4],[1.1,2.3],[1.6,1.2],[2.1,0.1],[2.3,5.3],[2.8,4.2],[3.3,3.1],[3.8,2.0],[4.3,0.9],[4.5,2.7],[5,1.6],[5.5,0.5],[5.7,7.0],[6.2,5.9],[6.7,4.8],[7.2,3.7],[7.7,2.6],[8.2,1.5],[8.4,3.9],[8.9,2.8],[9.4,1.7],[9.6,6.4],[10.1,5.3],[10.6,4.2],[11.1,3.1],[11.6,2.0],[11.8,4.5],[12.3,3.4],[12.8,2.3],[13.3,1.2],[13.5,7.3],[14,6.2],[14.5,5.1],[15,4.0],[15.5,2.9],[16,1.8],[16.2,4.3],[16.7,3.2],[17.2,2.1],[17.4,7.9],[17.9,6.8],[18.4,5.7],[18.9,4.6],[19.4,3.5],[19.9,2.4],[20.1,5.1],[20.6,4.0],[21.1,2.9],[21.3,7.4],[21.8,6.3],[22.3,5.2],[22.8,4.1],[23,6.2],[23.75,5.0]]
const slateC: P[] = [[0,-0.3],[0.5,-1.4],[1,-2.5],[1.2,0.2],[1.7,-0.9],[2.2,-2.0],[2.7,-3.1],[2.9,1.3],[3.4,0.2],[3.9,-0.9],[4.4,-2.0],[4.9,-3.1],[5.1,-1.0],[5.6,-2.1],[6.1,-3.2],[6.6,-4.3],[6.8,0.6],[7.3,-0.5],[7.8,-1.6],[8.3,-2.7],[8.8,-3.8],[9.3,-4.9],[9.5,-1.9],[10,-3.0],[10.5,-4.1],[11,-5.2],[11.2,-0.4],[11.7,-1.5],[12.2,-2.6],[12.7,-3.7],[13.2,-4.8],[13.7,-5.9],[13.9,-3.5],[14.4,-4.6],[14.9,-5.7],[15.1,-1.3],[15.6,-2.4],[16.1,-3.5],[16.6,-4.6],[17.1,-5.7],[17.6,-6.8],[17.8,-3.0],[18.3,-4.1],[18.8,-5.2],[19.3,-6.3],[19.5,-3.8],[20,-4.9],[20.5,-6.0],[21,-7.1],[21.2,-3.6],[21.7,-4.7],[22.2,-5.8],[22.7,-6.9],[22.9,-5.0],[23.4,-6.1],[23.75,-6.5]]
const darkredC: P[] = [[0,-0.5],[0.5,-1.6],[1,-2.7],[1.2,-0.6],[1.7,-1.7],[2.2,-2.8],[2.7,-3.9],[2.9,0.1],[3.4,-1.0],[3.9,-2.1],[4.4,-3.2],[4.9,-4.3],[5.1,-2.0],[5.6,-3.1],[6.1,-4.2],[6.6,-5.3],[6.8,-1.5],[7.3,-2.6],[7.8,-3.7],[8.3,-4.8],[8.8,-5.9],[9,-3.8],[9.5,-4.9],[10,-6.0],[10.5,-7.1],[10.7,-2.3],[11.2,-3.4],[11.7,-4.5],[12.2,-5.6],[12.7,-6.7],[13.2,-7.8],[13.4,-5.1],[13.9,-6.2],[14.4,-7.3],[14.9,-8.4],[15.1,-4.8],[15.6,-5.9],[16.1,-7.0],[16.6,-8.1],[17.1,-9.2],[17.3,-6.5],[17.8,-7.6],[18.3,-8.7],[18.8,-9.8],[19,-7.0],[19.5,-8.1],[20,-9.2],[20.5,-10.3],[21,-11.4],[21.2,-8.2],[21.7,-9.3],[22.2,-10.4],[22.4,-8.6],[22.9,-9.7],[23.4,-10.8],[23.75,-10.3]]
const magentaLow: P[] = [[0,-0.5],[0.5,-1.4],[1,-2.2],[1.5,-3.1],[1.8,-4.4],[2.3,-5.5],[2.7,-6.5],[3.3,-7.3],[3.7,-10.7],[4.0,-12.1],[4.05,-8.4],[4.5,-8.8],[5,-9.4],[5.6,-10],[6.2,-10.6],[6.8,-11.3],[7.3,-12],[7.9,-12.6],[8.5,-13.2],[9,-12.6],[9.5,-13.6],[10.1,-14.2],[10.7,-14.5],[11.2,-13],[11.6,-13.8],[12.2,-12.5],[12.6,-13],[13,-11.5],[13.3,-9.5],[13.8,-10],[14.3,-9.8],[14.8,-10.5],[15.2,-9.8],[15.8,-10.4],[16.4,-11.2],[16.9,-9.5],[17.4,-10.2],[18,-10.9],[18.4,-9.6],[19,-10.4],[19.6,-11.1],[20.2,-11.8],[20.5,-9.8],[21,-10.5],[21.6,-11.2],[22.2,-11.9],[22.5,-10],[23,-10.7],[23.75,-11.4]]
const yellowLow: P[] = [[0,-1],[0.5,-2.1],[1,-3.2],[1.5,-4.3],[1.7,-2.0],[2.2,-3.1],[2.7,-4.2],[3.2,-5.3],[3.4,-3.2],[3.9,-4.3],[4.4,-5.4],[4.9,-6.5],[5.4,-7.6],[5.6,-5.5],[6.1,-6.6],[6.6,-7.7],[7.1,-8.8],[7.6,-9.9],[7.8,-6.8],[8.3,-7.9],[8.8,-9.0],[9.3,-10.1],[9.5,-6.2],[10,-7.3],[10.5,-8.4],[11,-9.5],[11.5,-10.6],[11.7,-7.9],[12.2,-9.0],[12.7,-10.1],[12.9,-6.4],[13.4,-7.5],[13.9,-8.6],[14.4,-9.7],[14.9,-10.8],[15.1,-8.0],[15.6,-9.1],[16.1,-10.2],[16.3,-6.1],[16.8,-7.2],[17.3,-8.3],[17.8,-9.4],[18.3,-10.5],[18.5,-7.6],[19,-8.7],[19.5,-9.8],[19.7,-5.9],[20.2,-7.0],[20.7,-8.1],[21.2,-9.2],[21.4,-6.4],[21.9,-7.5],[22.4,-8.6],[22.9,-9.7],[23.1,-8.2],[23.75,-9.5]]
const blueE: P[] = [[0,0.4],[0.5,-0.7],[1,-1.8],[1.5,-2.9],[1.7,-1.1],[2.2,-2.2],[2.7,-3.3],[3.2,-4.4],[3.4,-1.9],[3.9,-3.0],[4.4,-4.1],[4.9,-5.2],[5.4,-6.3],[5.6,-3.9],[6.1,-5.0],[6.6,-6.1],[7.1,-7.2],[7.6,-8.3],[7.8,-5.4],[8.3,-6.5],[8.8,-7.6],[9.3,-8.7],[9.8,-9.8],[10,-7.1],[10.5,-8.2],[11,-9.3],[11.5,-10.4],[11.7,-8.5],[12.2,-9.6],[12.7,-10.7],[13.2,-11.8],[13.4,-8.9],[13.9,-10.0],[14.4,-11.1],[14.9,-12.2],[15.4,-13.3],[15.6,-10.1],[16.1,-11.2],[16.6,-12.3],[17.1,-13.4],[17.3,-11.0],[17.8,-12.1],[18.3,-13.2],[18.8,-14.3],[19,-11.2],[19.5,-12.3],[20,-13.4],[20.5,-14.5],[21,-15.6],[21.2,-13.0],[21.7,-14.1],[22.2,-15.2],[22.4,-13.6],[22.9,-14.7],[23.4,-15.8],[23.75,-15.3]]
const yellowHigh: P[] = [[0,0.2],[0.6,-0.6],[0.8,2.4],[1.5,1.6],[2.1,0.8],[2.3,5.2],[3,4.4],[3.6,3.6],[3.9,9.8],[4.2,15.5],[4.7,18.4],[5.3,18.1],[5.8,17.3],[6.1,18.0],[6.5,16.9],[7.1,16.0],[7.6,15.4],[8.2,16.5],[8.7,15.8],[9.3,15.1],[10,14.2],[10.6,13.4],[11.2,12.7],[11.6,13.9],[12.2,13.1],[12.8,12.3],[13.2,12.6],[13.6,13.2],[13.9,12.7],[14.3,11.9],[14.8,11.1],[15.3,10.3],[15.9,9.6],[16.5,8.8],[17.1,8.1],[17.5,7.4],[17.7,10.6],[18.3,9.9],[18.9,9.1],[19.5,8.3],[19.7,12],[20.3,11.2],[20.9,10.4],[21.5,9.7],[21.9,13.4],[22.5,12.6],[23.1,11.8],[23.75,11]]
const redF: P[] = [[0,0.6],[0.3,3.8],[0.8,2.7],[1.3,1.6],[1.5,6.2],[2,5.1],[2.3,8.3],[2.8,7.2],[3.3,6.1],[3.8,5.0],[4,7.9],[4.5,6.8],[5,5.7],[5.5,4.6],[6,3.5],[6.2,9.6],[6.7,8.5],[7.2,7.4],[7.7,6.3],[8.2,5.2],[8.7,4.1],[8.9,6.6],[9.4,5.5],[9.9,4.4],[10.1,10.3],[10.6,9.2],[11.1,8.1],[11.6,7.0],[12.1,5.9],[12.6,4.8],[12.8,7.0],[13.3,5.9],[13.8,4.8],[14,10.0],[14.5,8.9],[15,7.8],[15.5,6.7],[16,5.6],[16.5,4.5],[16.7,6.9],[17.2,5.8],[17.7,4.7],[17.9,9.4],[18.4,8.3],[18.9,7.2],[19.4,6.1],[19.9,5.0],[20.1,8.6],[20.6,7.5],[21.1,6.4],[21.3,10.1],[21.8,9.0],[22.3,7.9],[22.8,6.8],[23,8.7],[23.75,7.2]]
const greenG: P[] = [[0,-0.2],[0.5,-1.3],[1,-2.4],[1.2,-0.1],[1.7,-1.2],[2.2,-2.3],[2.4,2.5],[2.9,1.4],[3.4,0.3],[3.9,-0.8],[4.4,-1.9],[4.6,0.4],[5.1,-0.7],[5.6,-1.8],[6.1,-2.9],[6.3,3.0],[6.8,1.9],[7.3,0.8],[7.8,-0.3],[8.3,-1.4],[8.8,-2.5],[9,-0.2],[9.5,-1.3],[10,-2.4],[10.5,-3.5],[10.7,1.9],[11.2,0.8],[11.7,-0.3],[12.2,-1.4],[12.7,-2.5],[12.9,0.6],[13.4,-0.5],[13.9,-1.6],[14.4,-2.7],[14.6,2.1],[15.1,1.0],[15.6,-0.1],[16.1,-1.2],[16.6,-2.3],[17.1,-3.4],[17.3,-0.8],[17.8,-1.9],[18.3,-3.0],[18.5,1.6],[19,0.5],[19.5,-0.6],[20,-1.7],[20.5,-2.8],[20.7,-0.3],[21.2,-1.4],[21.7,-2.5],[22.2,-3.6],[22.4,-1.2],[22.9,-2.3],[23.4,-3.4],[23.75,-3.0]]
const magentaE: P[] = [[0,0.3],[0.5,-0.8],[0.7,2.2],[1.2,1.1],[1.7,0],[2.2,-1.1],[2.4,3.6],[2.9,2.5],[3.4,1.4],[3.9,0.3],[4.1,6.1],[4.6,5.0],[5.1,3.9],[5.6,2.8],[6.1,1.7],[6.3,3.9],[6.8,2.8],[7.3,1.7],[7.8,0.6],[8,6.8],[8.5,5.7],[9,4.6],[9.5,3.5],[10,2.4],[10.2,4.1],[10.7,3.0],[11.2,1.9],[11.4,8.2],[11.9,7.1],[12.4,6.0],[12.9,4.9],[13.4,3.8],[13.9,2.7],[14.1,5.0],[14.6,3.9],[15.1,2.8],[15.6,1.7],[15.8,6.6],[16.3,5.5],[16.8,4.4],[17.3,3.3],[17.8,2.2],[18,4.8],[18.5,3.7],[19,2.6],[19.5,1.5],[19.7,6.2],[20.2,5.1],[20.7,4.0],[21.2,2.9],[21.7,1.8],[21.9,4.9],[22.4,3.8],[22.9,2.7],[23.1,4.6],[23.75,3.8]]
const cyanE: P[] = [[0,0.5],[0.5,-0.6],[1,-1.7],[1.5,-2.8],[1.7,-0.4],[2.2,-1.5],[2.7,-2.6],[3.2,-3.7],[3.4,0.9],[3.9,-0.2],[4.4,-1.3],[4.9,-2.4],[5.4,-3.5],[5.6,-1.4],[6.1,-2.5],[6.6,-3.6],[7.1,-4.7],[7.6,-5.8],[7.8,-2.0],[8.3,-3.1],[8.8,-4.2],[9.3,-5.3],[9.5,-3.0],[10,-4.1],[10.5,-5.2],[11,-6.3],[11.5,-7.4],[11.7,-3.6],[12.2,-4.7],[12.7,-5.8],[13.2,-6.9],[13.4,-4.2],[13.9,-5.3],[14.4,-6.4],[14.9,-7.5],[15.4,-8.6],[15.6,-5.5],[16.1,-6.6],[16.6,-7.7],[17.1,-8.8],[17.3,-4.9],[17.8,-6.0],[18.3,-7.1],[18.8,-8.2],[19.3,-9.3],[19.5,-6.5],[20,-7.6],[20.5,-8.7],[20.7,-5.4],[21.2,-6.5],[21.7,-7.6],[22.2,-8.7],[22.4,-6.9],[22.9,-8.0],[23.4,-9.1],[23.75,-8.4]]
const redG: P[] = [[0,0.8],[0.5,-0.3],[1,-1.4],[1.2,2.0],[1.7,0.9],[2.2,-0.2],[2.7,-1.3],[2.9,1.1],[3.4,0],[3.9,-1.1],[4.1,4.4],[4.6,3.3],[5.1,2.2],[5.6,1.1],[6.1,0],[6.3,2.6],[6.8,1.5],[7.3,0.4],[7.8,-0.7],[8,5.1],[8.5,4.0],[9,2.9],[9.5,1.8],[10,0.7],[10.5,-0.4],[10.7,2.0],[11.2,0.9],[11.7,-0.2],[11.9,4.6],[12.4,3.5],[12.9,2.4],[13.4,1.3],[13.9,0.2],[14.4,-0.9],[14.6,1.7],[15.1,0.6],[15.6,-0.5],[15.8,3.9],[16.3,2.8],[16.8,1.7],[17.3,0.6],[17.8,-0.5],[18.3,-1.6],[18.5,1.2],[19,0.1],[19.5,-1.0],[19.7,2.6],[20.2,1.5],[20.7,0.4],[21.2,-0.7],[21.7,-1.8],[21.9,0.9],[22.4,-0.2],[22.9,-1.3],[23.4,-2.4],[23.75,-1.7]]
const zeroLine: P[] = [[0,0],[23.75,0]]

const SERIES: { name: string; color: string; points: P[] }[] = [
  { name: 'r1', color: RED, points: redPeak },
  { name: 'g1', color: GREEN, points: greenA },
  { name: 'b1', color: BLUE, points: blueA },
  { name: 'm1', color: MAGENTA, points: magentaA },
  { name: 'c1', color: CYAN, points: cyanA },
  { name: 'd1', color: DARKRED, points: darkredLow },
  { name: 'y1', color: YELLOW, points: yellowA },
  { name: 'k1', color: BLACK, points: blackA },
  { name: 's1', color: SLATE, points: slateTop },
  { name: 'n1', color: NAVY, points: navyFlat },
  { name: 'r2', color: RED, points: redB },
  { name: 'g2', color: GREEN, points: greenB },
  { name: 'b2', color: BLUE, points: blueLow },
  { name: 'm2', color: MAGENTA, points: magentaB },
  { name: 'c2', color: CYAN, points: cyanLow },
  { name: 'd2', color: DARKRED, points: darkredMid },
  { name: 'y2', color: YELLOW, points: yellowB },
  { name: 's2', color: SLATE, points: slateLow },
  { name: 'n2', color: NAVY, points: navyLow },
  { name: 'r3', color: RED, points: redC },
  { name: 'g3', color: GREEN, points: greenC },
  { name: 'b3', color: BLUE, points: blueB },
  { name: 'm3', color: MAGENTA, points: magentaC },
  { name: 'c3', color: CYAN, points: cyanB },
  { name: 'd3', color: DARKRED, points: darkredHigh },
  { name: 'y3', color: YELLOW, points: yellowC },
  { name: 's3', color: SLATE, points: slateMid },
  { name: 'r4', color: RED, points: redD },
  { name: 'g4', color: GREEN, points: greenD },
  { name: 'b4', color: BLUE, points: blueC },
  { name: 'm4', color: MAGENTA, points: magentaD },
  { name: 'c4', color: CYAN, points: cyanC },
  { name: 'd4', color: DARKRED, points: darkredC },
  { name: 'y4', color: YELLOW, points: yellowD },
  { name: 's4', color: SLATE, points: slateC },
  { name: 'r5', color: RED, points: redE },
  { name: 'g5', color: GREEN, points: greenE },
  { name: 'b5', color: BLUE, points: blueD },
  { name: 'm5', color: MAGENTA, points: magentaLow },
  { name: 'c5', color: CYAN, points: cyanD },
  { name: 'y5', color: YELLOW, points: yellowE },
  { name: 'r6', color: RED, points: redF },
  { name: 'g6', color: GREEN, points: greenF },
  { name: 'b6', color: BLUE, points: blueE },
  { name: 'm6', color: MAGENTA, points: magentaE },
  { name: 'c6', color: CYAN, points: cyanE },
  { name: 'y6', color: YELLOW, points: yellowLow },
  { name: 'r7', color: RED, points: redG },
  { name: 'g7', color: GREEN, points: greenG },
  { name: 'y7', color: YELLOW, points: yellowHigh },
  { name: 'zero', color: DARKRED, points: zeroLine },
]

const toRows = (pts: P[]) => pts.map(([h, v]) => ({ h, v }))

const AXIS = { stroke: '#000', strokeWidth: 1, shapeRendering: 'crispEdges' }
const LABEL = { fill: '#000', fontSize: 11.6, fontFamily: FONT }

export default function App() {
  return (
    <div style={{ position: 'absolute', left: 0, top: 0, width: 640, height: 480, background: '#fff' }}>
      <LineChart width={640} height={480} margin={{ top: 31, right: 18, bottom: 32, left: 49 }}>
        <XAxis xAxisId="x" type="number" dataKey="h" domain={[0, 23.75]} ticks={HOURS} allowDataOverflow
          orientation="bottom" height={1} mirror tick={false} tickSize={6} axisLine={AXIS} tickLine={AXIS} />
        <XAxis xAxisId="xl" type="number" dataKey="h" domain={[0, 23.75]} ticks={HOURS} allowDataOverflow
          orientation="bottom" height={1} tickSize={0} tickMargin={7} axisLine={false} tickLine={false} tick={LABEL} />
        <XAxis xAxisId="xt" type="number" dataKey="h" domain={[0, 23.75]} ticks={HOURS} allowDataOverflow
          orientation="top" height={1} mirror tick={false} tickSize={6} axisLine={AXIS} tickLine={AXIS} />
        <YAxis yAxisId="y" type="number" domain={[-40, 40]} ticks={VALUE_TICKS} allowDataOverflow
          orientation="left" width={1} mirror tick={false} tickSize={6} axisLine={AXIS} tickLine={AXIS} />
        <YAxis yAxisId="yl" type="number" domain={[-40, 40]} ticks={VALUE_TICKS} allowDataOverflow
          orientation="left" width={1} tickSize={0} tickMargin={7} axisLine={false} tickLine={false} tick={LABEL} />
        <YAxis yAxisId="yr" type="number" domain={[-40, 40]} ticks={VALUE_TICKS} allowDataOverflow
          orientation="right" width={1} mirror tick={false} tickSize={6} axisLine={AXIS} tickLine={AXIS} />
        {SERIES.map((s) => (
          <Line key={s.name} xAxisId="x" yAxisId="y" data={toRows(s.points)} dataKey="v" type="linear"
            stroke={s.color} strokeWidth={1} shapeRendering="crispEdges"
            dot={false} activeDot={false} isAnimationActive={false} />
        ))}
      </LineChart>
      <svg width={640} height={480} style={{ position: 'absolute', left: 0, top: 0, pointerEvents: 'none' }}>
        <text x={336} y={19} textAnchor="middle" fontFamily={FONT} fontSize={11.6} fill="#000">Cumulative Z-Squared Value</text>
        <text x={336} y={476} textAnchor="middle" fontFamily={FONT} fontSize={11.6} fill="#000">Hour of Day</text>
        <text x={15} y={233} transform="rotate(-90 15 233)" textAnchor="middle" fontFamily={FONT} fontSize={11.6} fill="#000">Cumulative (Z*Z)-1</text>
      </svg>
    </div>
  )
}
